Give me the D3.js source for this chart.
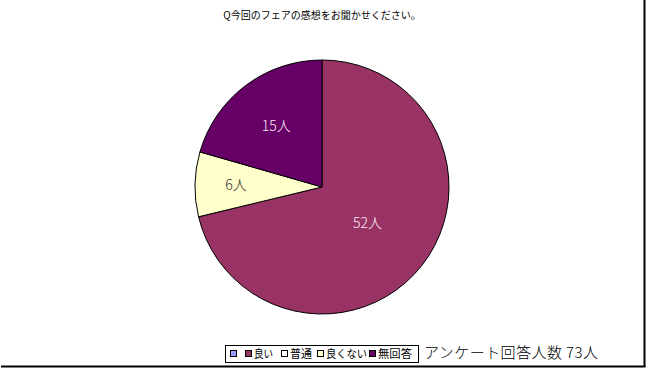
<!DOCTYPE html>
<html><head><meta charset="utf-8">
<script src="https://cdn.jsdelivr.net/npm/d3@7"></script>
<style>
html,body{margin:0;padding:0;background:#fff;}
svg{display:block;font-family:"Noto Sans CJK JP","DejaVu Sans",sans-serif;}
</style></head>
<body><svg id="c" width="650" height="372"></svg>
<script>
const title = "Q今回のフェアの感想をお聞かせください。";
const categories = ["", "良い", "普通", "良くない", "無回答"];
const values = [0, 52, 0, 6, 15];
const colors = ["#9999FF", "#993366", "#FFFFFF", "#FFFFCC", "#660066"];
const labelColors = ["#fff", "#FFE8F4", "#000", "#333333", "#FFE8F4"];
const labelRadius = [0, 58, 0, 86, 76];
const legendTextWidth = [0, 19, 22, 41, 34];
const totalText = "アンケート回答人数 73人";

const svg = d3.select("#c");
// frame
svg.append("line").attr("x1",1).attr("x2",645.5).attr("y1",366.5).attr("y2",366.5).attr("stroke","#000").attr("stroke-width",2);
svg.append("line").attr("x1",644.5).attr("x2",644.5).attr("y1",0).attr("y2",367).attr("stroke","#000").attr("stroke-width",2);

svg.append("text").attr("x",322).attr("y",19).attr("text-anchor","middle")
  .attr("font-size",10).attr("fill","#000").text(title);

const cx = 322, cy = 187, R = 127;
const pie = d3.pie().sort(null).value(d=>d.v);
const data = categories.map((c,i)=>({c, v:values[i], i}));
const arcs = pie(data);
const arc = d3.arc().innerRadius(0).outerRadius(R);
const g = svg.append("g").attr("transform",`translate(${cx},${cy})`);
g.selectAll("path").data(arcs.filter(a=>a.data.v>0)).join("path")
  .attr("d",arc).attr("fill",d=>colors[d.data.i]).attr("stroke","#000").attr("stroke-width",1);
g.selectAll("text").data(arcs.filter(a=>a.data.v>0)).join("text")
  .attr("transform",d=>{const r=labelRadius[d.data.i]; return `translate(${d3.arc().innerRadius(r).outerRadius(r).centroid(d)})`;})
  .attr("text-anchor","middle").attr("dy","0.36em").attr("font-size",14).attr("font-weight",300)
  .attr("fill",d=>labelColors[d.data.i]).text(d=>d.data.v+"人");

// legend
const lg = svg.append("g");
lg.append("rect").attr("x",225.5).attr("y",345.5).attr("width",193).attr("height",17).attr("fill","#fff").attr("stroke","#000").attr("stroke-width",1);
const legX = [230, 245, 281, 317, 369];
categories.forEach((c,i)=>{
  lg.append("rect").attr("x",legX[i]+0.5).attr("y",350.5).attr("width",6).attr("height",6)
    .attr("fill",colors[i]).attr("stroke","#000").attr("stroke-width",1);
  if(c) lg.append("text").attr("x",legX[i]+9).attr("y",357.5).attr("font-size",11).attr("fill","#000")
    .attr("textLength",legendTextWidth[i]).attr("lengthAdjust","spacingAndGlyphs").text(c);
});
svg.append("text").attr("x",424).attr("y",358).attr("font-size",15).attr("font-weight",300).attr("fill","#000")
  .attr("textLength",174).text(totalText);
</script></body></html>
